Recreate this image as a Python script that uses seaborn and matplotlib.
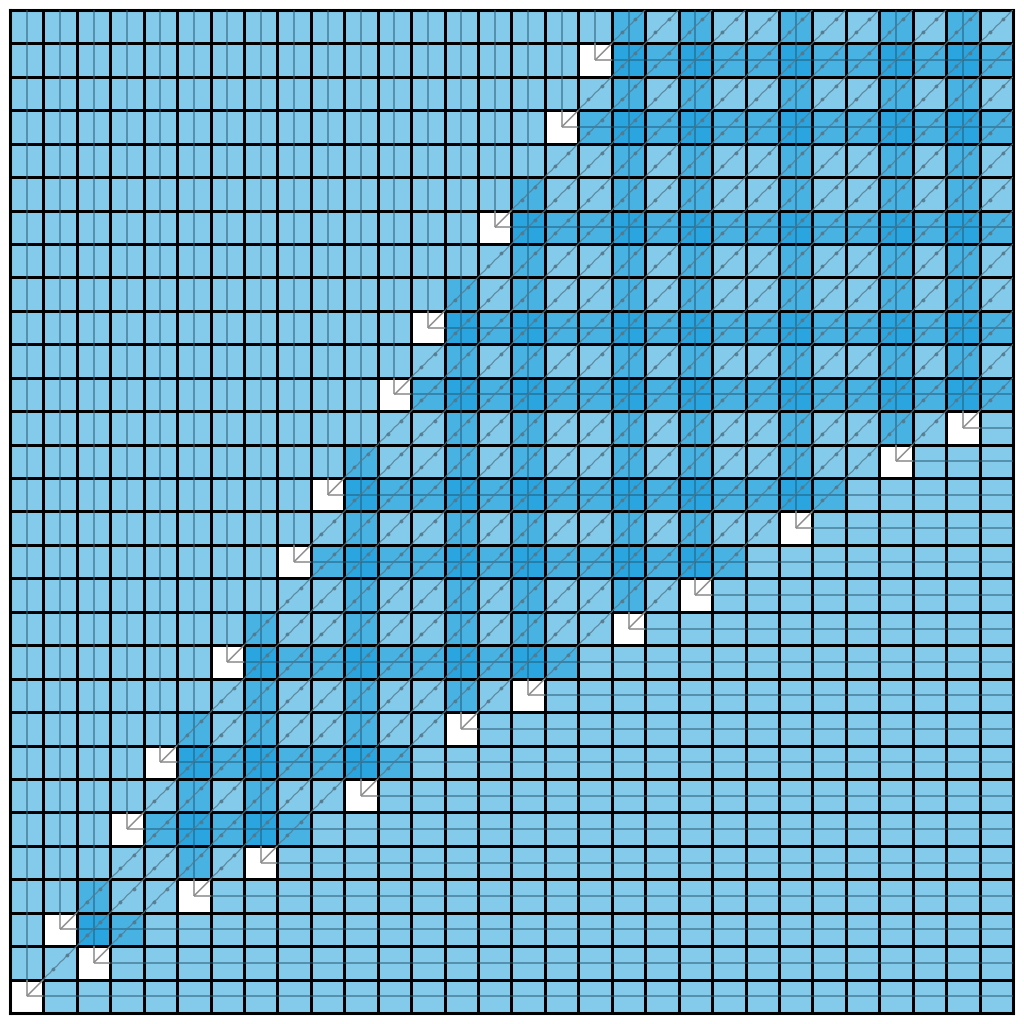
import numpy as np
import pandas as pd
import matplotlib
matplotlib.use("Agg")
import matplotlib.pyplot as plt
from matplotlib.colors import ListedColormap
from matplotlib.collections import LineCollection
import seaborn as sns

# ---------------- data ----------------
n_cells = 30
# first / last column of the diagonal band in each row (row 0 = top)
band_start = [18, 18, 17, 17, 16, 15, 15, 14, 13, 13, 12, 12, 11, 10, 10,
              9, 9, 8, 7, 7, 6, 5, 5, 4, 4, 3, 2, 2, 1, 1]
band_end = [29, 29, 29, 29, 29, 29, 29, 29, 29, 29, 29, 29, 27, 25, 24,
            22, 21, 19, 17, 16, 14, 12, 11, 9, 8, 6, 4, 3, 1, 0]
# white cells on the upper-left edge (their rows are highlighted to the right)
row_white_rows = [1, 3, 6, 9, 11, 14, 16, 19, 22, 24, 27, 29]
row_white_cols = [17, 16, 14, 12, 11, 9, 8, 6, 4, 3, 1, 0]
# white cells on the lower-right edge (their columns are highlighted upward)
col_white_rows = [12, 13, 15, 17, 18, 20, 21, 23, 25, 26, 28]
col_white_cols = [28, 26, 23, 20, 18, 15, 13, 10, 7, 5, 2]
# shape of the small rising line drawn inside band cells
diag_t = [0.0, 0.1, 0.2, 0.3, 0.4, 0.5, 0.6, 0.7, 0.8, 0.9, 1.0]
diag_y = [0.0, 0.12, 0.2, 0.33, 0.4, 0.52, 0.6, 0.72, 0.8, 0.91, 1.0]

colors = ["#ffffff", "#84cbeb", "#48b2e3", "#2aa5df"]

# ---------------- build matrices ----------------
level = np.ones((n_cells, n_cells))
row_hl = np.zeros((n_cells, n_cells), bool)
col_hl = np.zeros((n_cells, n_cells), bool)
in_band = np.zeros((n_cells, n_cells), bool)
for r in range(n_cells):
    for c in range(band_start[r], band_end[r] + 1):
        in_band[r, c] = True
for r, cw in zip(row_white_rows, row_white_cols):
    for c in range(cw + 1, band_end[r] + 1):
        row_hl[r, c] = True
for rw, c in zip(col_white_rows, col_white_cols):
    for r in range(rw):
        if in_band[r, c]:
            col_hl[r, c] = True
level = level + row_hl + col_hl
white = np.zeros((n_cells, n_cells), bool)
for r, c in list(zip(row_white_rows, row_white_cols)) + list(zip(col_white_rows, col_white_cols)):
    white[r, c] = True
    level[r, c] = 0

df = pd.DataFrame(level)

# ---------------- draw ----------------
fig = plt.figure(figsize=(10.24, 10.24), dpi=100)
ax = fig.add_axes([10 / 1024, 11 / 1024, 1003 / 1024, 1003 / 1024])
sns.heatmap(df, cmap=ListedColormap(colors), vmin=-0.5, vmax=3.5, cbar=False,
            linewidths=1.8, linecolor="black", square=False, ax=ax,
            xticklabels=False, yticklabels=False)

vert, horiz, diags, wsegs = [], [], [], []
hl_vert, hl_horiz = [], []
for r in range(n_cells):
    for c in range(n_cells):
        if white[r, c]:
            wsegs.append([(c + 0.5, r), (c + 0.5, r + 0.5)])
            wsegs.append([(c + 0.5, r + 0.5), (c + 1, r + 0.5)])
            wsegs.append([(c + 0.5, r + 0.5), (c + 1, r)])
        elif in_band[r, c]:
            diags.append([(c + t, r + 1 - y) for t, y in zip(diag_t, diag_y)])
            if col_hl[r, c]:
                hl_vert.append([(c + 0.5, r), (c + 0.5, r + 1)])
            if row_hl[r, c]:
                hl_horiz.append([(c, r + 0.5), (c + 1, r + 0.5)])
        elif c < band_start[r]:
            vert.append([(c + 0.5, r), (c + 0.5, r + 1)])
        else:
            horiz.append([(c, r + 0.5), (c + 1, r + 0.5)])

ax.add_collection(LineCollection(vert, colors="#2f5f78", linewidths=1.3, alpha=0.6, zorder=3))
ax.add_collection(LineCollection(horiz, colors="#2f5f78", linewidths=1.3, alpha=0.6, zorder=3))
ax.add_collection(LineCollection(hl_vert, colors="#1f5a78", linewidths=1.2, alpha=0.6, zorder=3))
ax.add_collection(LineCollection(hl_horiz, colors="#1f5a78", linewidths=1.2, alpha=0.6, zorder=3))
ax.add_collection(LineCollection(diags, colors="#56788a", linewidths=0.9, alpha=0.8, zorder=4))
for seg in diags:
    xs = [seg[3][0], seg[7][0]]
    ys = [seg[3][1], seg[7][1]]
    ax.plot(xs, ys, "o", ms=1.8, color="#56788a", alpha=0.8, zorder=4)
ax.add_collection(LineCollection(wsegs, colors="#8c8c8c", linewidths=1.1, zorder=4))

ax.set_xlim(0, n_cells)
ax.set_ylim(n_cells, 0)
for s in ax.spines.values():
    s.set_visible(True)
    s.set_linewidth(2.2)
    s.set_color("black")
ax.set_xlabel("")
ax.set_ylabel("")

fig.savefig("out.png", dpi=100)
